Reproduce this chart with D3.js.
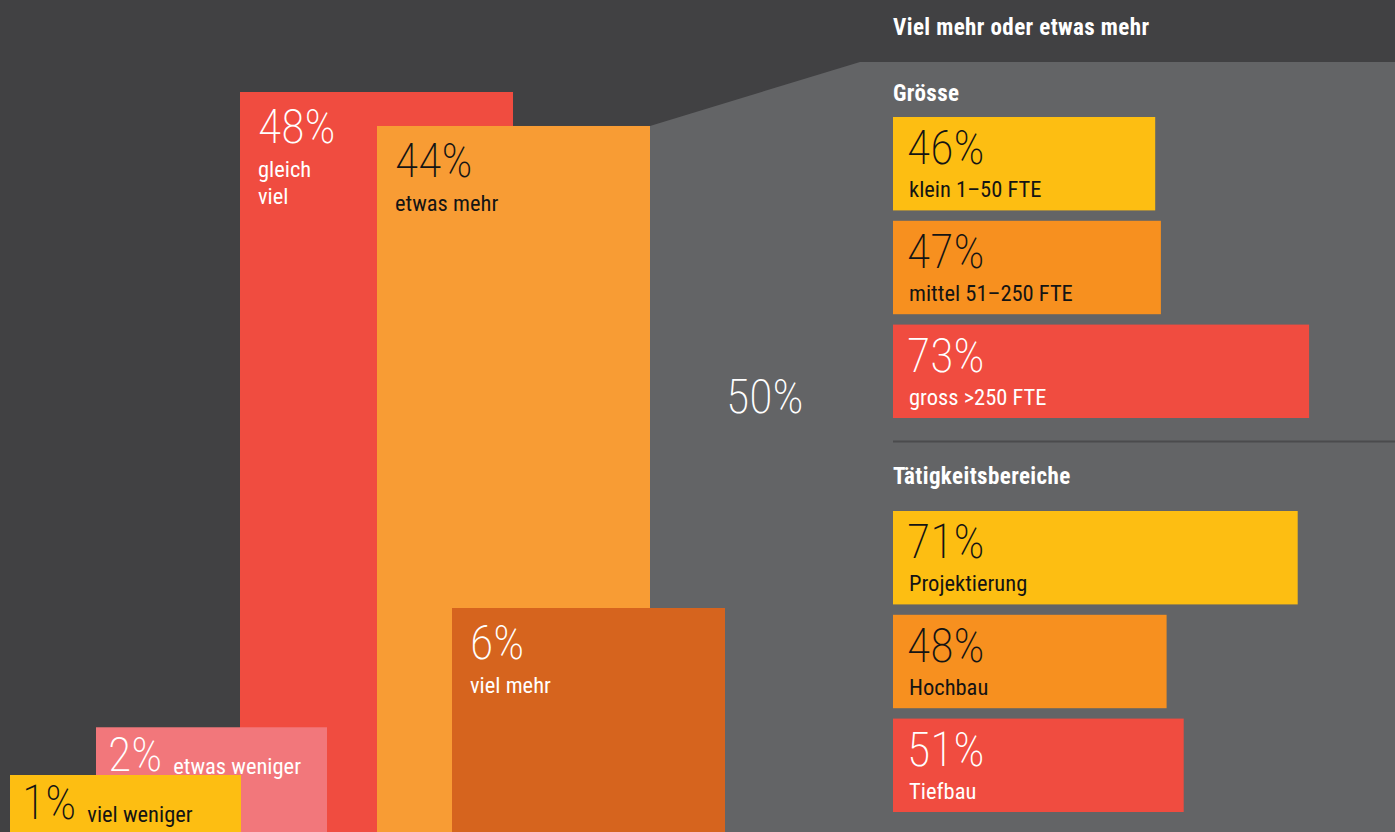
<!DOCTYPE html>
<html lang="de">
<head>
<meta charset="utf-8">
<title>Erwartung viel mehr oder etwas mehr</title>
<script src="https://cdn.jsdelivr.net/npm/d3@7"></script>
<style>
  html, body { margin: 0; padding: 0; background: #414143; overflow: hidden; }
  svg { display: block; }
</style>
</head>
<body>
<svg id="chart" width="1395" height="832"></svg>
<script>
// Gesamtverteilung der Antworten
const overallCategories = ["viel weniger", "etwas weniger", "gleich viel", "etwas mehr", "viel mehr"];
const overallValues = [1, 2, 48, 44, 6];
const overallLabelLines = [["viel weniger"], ["etwas weniger"], ["gleich", "viel"], ["etwas mehr"], ["viel mehr"]];

// Aufschlüsselung "viel mehr oder etwas mehr"
const panelTitle = "Viel mehr oder etwas mehr";
const sizeTitle = "Grösse";
const sizeLabels = ["klein 1–50 FTE", "mittel 51–250 FTE", "gross >250 FTE"];
const sizeValues = [46, 47, 73];
const sectorTitle = "Tätigkeitsbereiche";
const sectorLabels = ["Projektierung", "Hochbau", "Tiefbau"];
const sectorValues = [71, 48, 51];

const W = 1395, H = 832;
const FONT = "'Roboto Condensed', 'Liberation Sans Narrow', 'Arial Narrow', sans-serif";
const NUM_SIZE = "48px", NUM_WEIGHT = 200, LBL_SIZE = "22.5px";

const svg = d3.select("#chart");

// Hintergrund
svg.append("rect").attr("width", W).attr("height", H).attr("fill", "#414143");

// ---- linke Seite: überlappende Säulen ----
const overallColors = ["#FDBE12", "#F2777B", "#F04C40", "#F89C34", "#D6641E"];
const overallInk = ["#141414", "#ffffff", "#ffffff", "#141414", "#ffffff"];
const overallLeft = [10, 96, 240, 377, 452];
const overallWidth = [231, 231, 273, 273, 273];
const inlineLabel = [true, true, false, false, false];
const drawOrder = [2, 3, 4, 1, 0];

// Säulenhöhe: Wurzelskala zwischen kleinstem und grösstem Anteil
const hScale = d3.scalePow().exponent(0.5)
  .domain(d3.extent(overallValues))
  .range([57, 740]);

const overall = overallCategories.map((c, i) => ({
  key: c, value: overallValues[i], lines: overallLabelLines[i],
  color: overallColors[i], ink: overallInk[i], x: overallLeft[i], w: overallWidth[i],
  inline: inlineLabel[i], top: H - hScale(overallValues[i])
}));

// Detailfläche rechts, ausgehend von der Säule "etwas mehr"
const more = overall[3];
const panelTop = 62;
const panelPts = [[more.x + more.w, more.top], [860, panelTop], [W, panelTop], [W, H], [more.x + more.w, H]];
svg.append("path")
  .attr("d", d3.line()(panelPts) + "Z")
  .attr("fill", "#636466");

const bar = svg.append("g").selectAll("g.bar")
  .data(drawOrder.map(i => overall[i]))
  .join("g").attr("class", "bar");

bar.append("rect")
  .attr("x", d => d.x).attr("y", d => d.top)
  .attr("width", d => d.w).attr("height", d => H - d.top)
  .attr("fill", d => d.color);

bar.each(function(d) {
  const t = d3.select(this).append("text")
    .attr("fill", d.ink).style("font-family", FONT);
  if (d.inline) {
    t.attr("x", d.x + 12).attr("y", d.top + 44);
    t.append("tspan").style("font-size", NUM_SIZE).style("font-weight", NUM_WEIGHT).text(d.value + "%");
    t.append("tspan").attr("dx", 11).attr("dy", 3).style("font-size", LBL_SIZE).text(d.lines[0]);
  } else {
    const pad = d.x + 18;
    t.attr("x", pad).attr("y", d.top + 51);
    t.append("tspan").style("font-size", NUM_SIZE).style("font-weight", NUM_WEIGHT).text(d.value + "%");
    d.lines.forEach((ln, j) => {
      t.append("tspan").attr("x", pad).attr("dy", j === 0 ? 34 : 27)
        .style("font-size", LBL_SIZE).text(ln);
    });
  }
});

// Summe "viel mehr" + "etwas mehr"
svg.append("text")
  .attr("x", 726).attr("y", 413)
  .attr("fill", "#ffffff").style("font-family", FONT)
  .style("font-size", NUM_SIZE).style("font-weight", NUM_WEIGHT)
  .text(d3.sum([overallValues[3], overallValues[4]]) + "%");

// ---- rechte Seite: Aufschlüsselung ----
const px = 893;
const headStyle = sel => sel.attr("fill", "#fff").style("font-family", FONT)
  .style("font-size", "23px").style("font-weight", 700).style("letter-spacing", "0.4px");

svg.append("text").attr("x", px).attr("y", 35).call(headStyle).text(panelTitle);

const wScale = d3.scaleLinear().domain([0, 100]).range([0, 570]);
const hbarColors = ["#FDBE12", "#F7901F", "#F04C40"];
const hbarInk = ["#141414", "#141414", "#ffffff"];

function group(title, titleY, labels, values, y0, y1) {
  svg.append("text").attr("x", px).attr("y", titleY).call(headStyle).text(title);
  const y = d3.scaleBand().domain(labels).range([y0, y1]).paddingInner(0.1);
  const g = svg.append("g").selectAll("g")
    .data(labels.map((l, i) => ({ l, v: values[i], i })))
    .join("g");
  g.append("rect").attr("x", px).attr("y", d => y(d.l))
    .attr("width", d => wScale(d.v)).attr("height", y.bandwidth())
    .attr("fill", d => hbarColors[d.i]);
  const t = g.append("text").attr("x", px + 14).attr("y", d => y(d.l) + 47)
    .attr("fill", d => hbarInk[d.i]).style("font-family", FONT);
  t.append("tspan").style("font-size", NUM_SIZE).style("font-weight", NUM_WEIGHT).text(d => d.v + "%");
  t.append("tspan").attr("x", px + 16).attr("dy", 33).style("font-size", LBL_SIZE).text(d => d.l);
}

group(sizeTitle, 101, sizeLabels, sizeValues, 117, 418);
svg.append("line").attr("x1", px).attr("x2", W).attr("y1", 441.5).attr("y2", 441.5)
  .attr("stroke", "#4b4b4d").attr("stroke-width", 2);
group(sectorTitle, 484, sectorLabels, sectorValues, 511, 812);
</script>
</body>
</html>
